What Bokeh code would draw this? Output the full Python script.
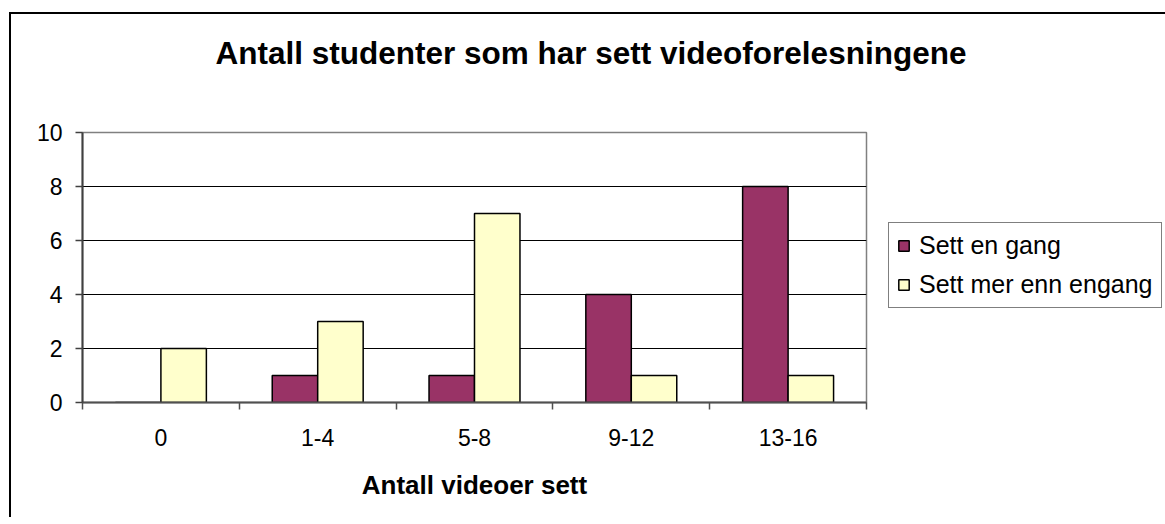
import numpy as np
from bokeh.plotting import figure
from bokeh.models import (ColumnDataSource, FixedTicker, Legend, LegendItem, Range1d,
                          Title, LinearAxis)
from bokeh.transform import dodge
from bokeh.embed import file_html
from bokeh.resources import INLINE

title_text = "Antall studenter som har sett videoforelesningene"
categories = ["0", "1-4", "5-8", "9-12", "13-16"]
sett_en_gang = [0, 1, 1, 4, 8]
sett_mer_enn_engang = [2, 3, 7, 1, 1]
series_names = ["Sett en gang", "Sett mer enn engang"]
y_ticks = [0, 2, 4, 6, 8, 10]

FONT = "Liberation Sans"
MAROON = "#993366"
CREAM = "#FFFFCC"

xs = np.arange(len(categories)) + 0.5
source = ColumnDataSource(dict(x=xs, a=sett_en_gang, b=sett_mer_enn_engang, cat=categories))

p = figure(output_backend="svg", toolbar_location=None,
           frame_width=784, frame_height=270,
           min_border_left=71, min_border_top=118, min_border_right=296, min_border_bottom=115,
           x_range=Range1d(0, len(categories)), y_range=Range1d(0, 10))

xa = p.below[0]
ya = p.left[0]

p.styles = {"border-left": "2px solid #000000", "border-top": "2px solid #000000",
            "margin-left": "9px", "margin-top": "12px"}

# invisible spacer axis between frame and title (keeps the title high above the frame)
spacer = LinearAxis(ticker=FixedTicker(ticks=[2.5]), major_label_overrides={2.5: ""},
                    axis_line_color=None, major_tick_line_color=None,
                    minor_tick_line_color=None, major_tick_out=57, major_tick_in=0,
                    minor_tick_out=0, minor_tick_in=0, major_label_standoff=0,
                    major_label_text_font_size="1px")
p.add_layout(spacer, "above")

title = Title(text=title_text, text_font=FONT, text_font_size="31.5px",
              text_font_style="bold", text_color="#000000",
              align="left", offset=133, standoff=10)
p.add_layout(title, "above")

bw = 0.29
r1 = p.vbar(x=dodge("x", -bw / 2), top="a", width=bw, source=source,
            fill_color=MAROON, line_color="#000000", line_width=1.5)
r2 = p.vbar(x=dodge("x", bw / 2), top="b", width=bw, source=source,
            fill_color=CREAM, line_color="#000000", line_width=1.5)

p.outline_line_color = "#808080"
p.outline_line_width = 1.5
p.background_fill_color = "#ffffff"

p.xgrid.visible = False
p.ygrid.ticker = FixedTicker(ticks=[t for t in y_ticks if 0 < t < 10])
p.ygrid.grid_line_color = "#000000"
p.ygrid.grid_line_width = 1

# y axis
ya.ticker = FixedTicker(ticks=y_ticks)
ya.axis_line_color = "#404040"
ya.axis_line_width = 2
ya.major_tick_line_color = "#404040"
ya.major_tick_line_width = 1.5
ya.major_tick_out = 7
ya.major_tick_in = 0
ya.minor_tick_line_color = None
ya.major_label_standoff = 13
ya.major_label_text_font = FONT
ya.major_label_text_font_size = "23px"
ya.major_label_text_color = "#000000"

# x axis
xa.ticker = FixedTicker(ticks=list(xs), minor_ticks=list(range(len(categories) + 1)))
xa.major_label_overrides = {float(x): c for x, c in zip(xs, categories)}
xa.major_tick_line_color = None
xa.major_tick_out = 0
xa.major_tick_in = 0
xa.minor_tick_line_color = "#505050"
xa.minor_tick_line_width = 1.5
xa.minor_tick_out = 7
xa.minor_tick_in = 0
xa.axis_line_color = "#505050"
xa.axis_line_width = 2
xa.major_label_standoff = 19
xa.major_label_text_font = FONT
xa.major_label_text_font_size = "23px"
xa.major_label_text_color = "#000000"
xa.axis_label = "Antall videoer sett"
xa.axis_label_text_font = FONT
xa.axis_label_text_font_size = "26px"
xa.axis_label_text_font_style = "bold"
xa.axis_label_text_color = "#000000"
xa.axis_label_standoff = 21

legend = Legend(items=[LegendItem(label=series_names[0], renderers=[r1]),
                       LegendItem(label=series_names[1], renderers=[r2])],
                location=(22, 94), orientation="vertical")
legend.border_line_color = "#000000"
legend.border_line_width = 1
legend.background_fill_color = "#ffffff"
legend.label_text_font = FONT
legend.label_text_font_size = "25px"
legend.label_text_color = "#000000"
legend.glyph_width = 13
legend.glyph_height = 13
legend.label_height = 20
legend.label_standoff = 9
legend.spacing = 10
legend.padding = 8
legend.margin = 0
p.add_layout(legend, "right")

open("out.html", "w").write(file_html(p, INLINE))
